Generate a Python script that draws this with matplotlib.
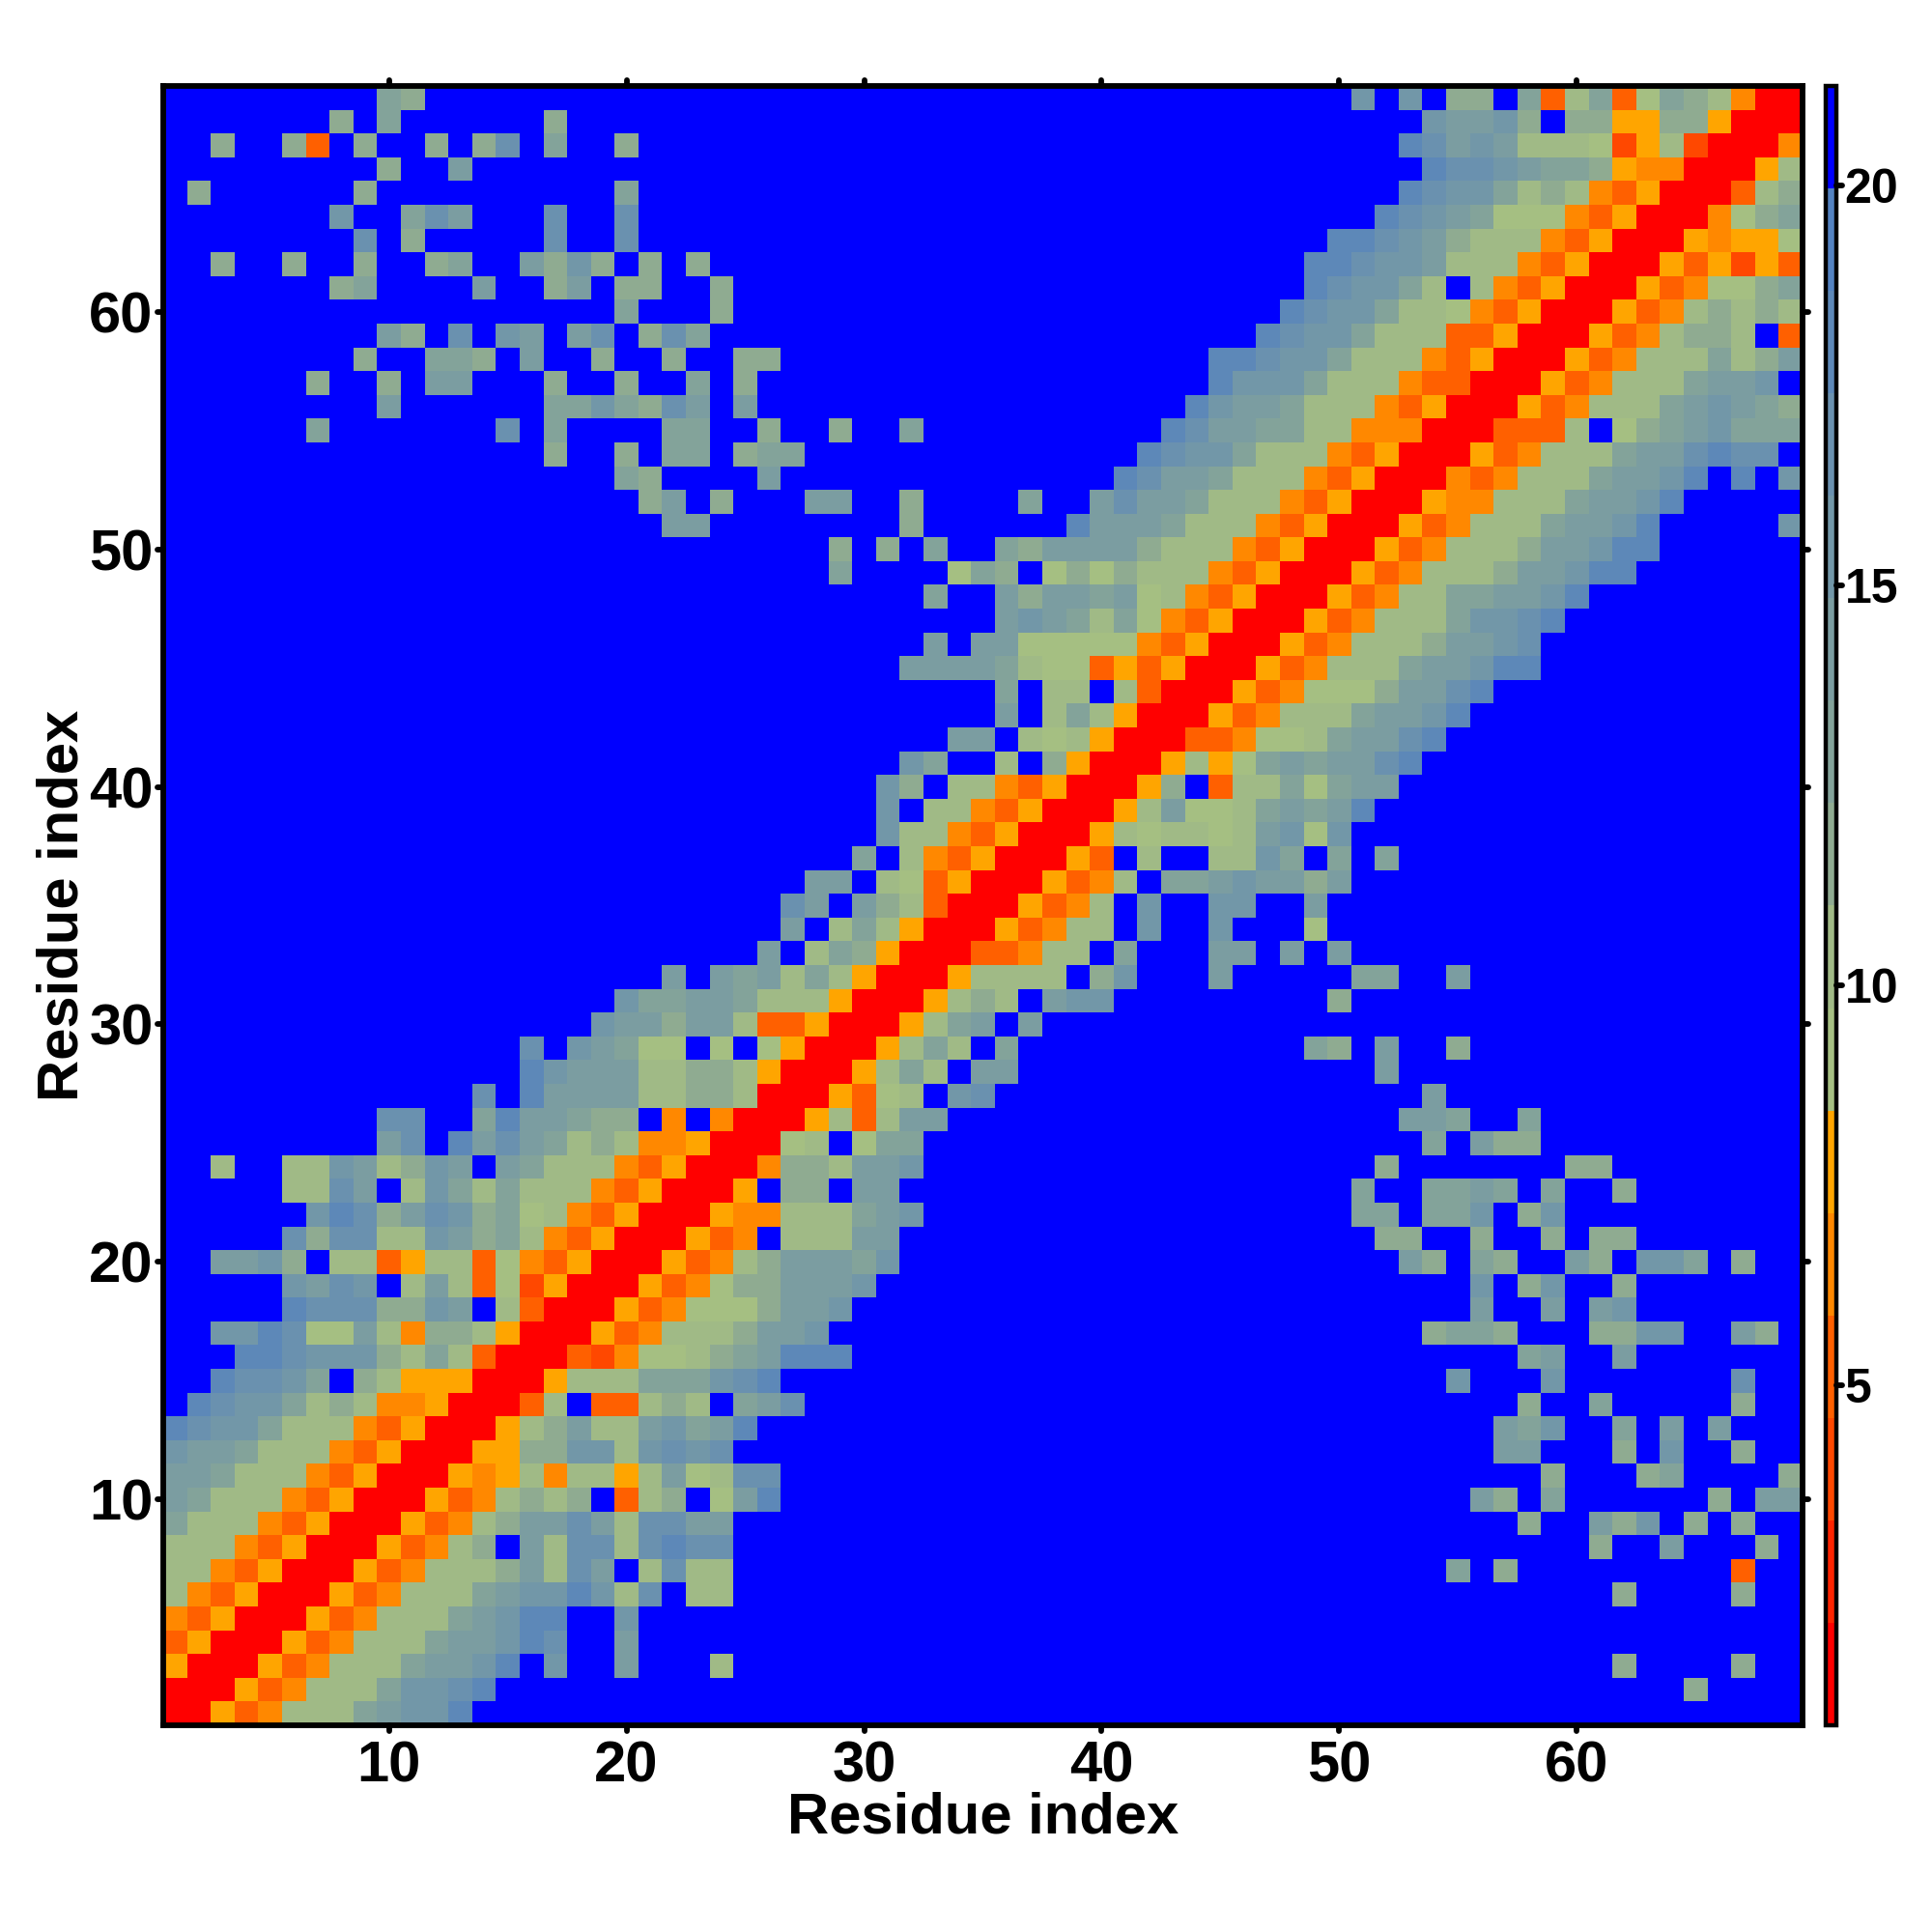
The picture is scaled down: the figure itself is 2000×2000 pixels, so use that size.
import numpy as np
import matplotlib as mpl
mpl.use('Agg')
import matplotlib.pyplot as plt
from matplotlib.colors import ListedColormap, BoundaryNorm
from matplotlib.markers import MarkerStyle

plt.rcParams['font.family'] = ['Liberation Sans', 'DejaVu Sans']
plt.rcParams['font.weight'] = 'bold'

# one string per residue row, top row (69) first; one letter per colour level, '.' is the top level
rows = [
 ".........d" "c........." ".........." ".........." ".........." "f.f.cc.dub" "duadcbvrr",
 ".......c.d" "......c..." ".........." ".........." ".........." "...feefc.c" "cwwccwrrr",
 "..c..cu.c." ".c.cg.d..c" ".........." ".........." ".........." "..hgefebbb" "atwbtrrrv",
 ".........c" "..e......." ".........." ".........." ".........." "...hggfedd" "cwvvrrrwb",
 ".c......c." ".........d" ".........." ".........." ".........." "..hgffdbcb" "vuwrrrubc",
 ".......f.." "dge...g..g" ".........." ".........." ".........." ".hgfedaaav" "uwrrrvacd",
 "........g." "c.....g..g" ".........." ".........." ".........h" "hgfecbbbvu" "wrrrwvwwa",
 "..c..c..c." ".cd..ecfc." "c.c......." ".........." "........hh" "gffebbbvuw" "rrrwuwtwu",
 ".......cd." "...e..ce.c" "c..c......" ".........." "........hg" "ffdb.bvuwr" "rrwuvaacd",
 ".........." ".........d" "...c......" ".........." ".......hgf" "fdbbavuwrr" "rwuvbcbcb",
 ".........e" "c.g.fe.eg." "cgd......." ".........." "......hgff" "dbbbuuwrrr" "wuvbccb.u",
 "........c." ".ddc.e..c." ".c..cc...." ".........." "....hhgffd" "bbbvuwrrrw" "uvbbbdbce",
 "......c..c" ".ee...c..c" "..d.c....." ".........." "....hfffdb" "bbvuurrrwu" "vbbbdeef.",
 ".........e" "......ddfd" "cge.e....." ".........." "...hfeedbb" "bvuwrrrwuv" "bbbdefedc",
 "......d..." "....g.d..." ".dd..c..c." ".d........" "..hgeeddbb" "vvvrrruuub" ".acdefddd",
 ".........." "......c..c" ".dd.cdd..." ".........." ".hgffdbbbv" "uwrrrwuvbb" "bdeeghgg.",
 ".........." ".........d" "c....e...." ".........." "hgeedbbbvu" "wrrrvuvbbb" "deefh.h.f",
 ".........." ".........." "ce.c...ee." ".c....d..e" "geedbbbvuw" "rrrwvvbbbd" "eefh.....",
 ".........." ".........." ".ee......." ".c......he" "eedbbbvuwr" "rrwuvbbbde" "efh.....f",
 ".........." ".........." "........c." "c.d..dceee" "ecbbbvuwrr" "rwuvbbbcee" "fhh......",
 ".........." ".........." "........d." "...adc.aca" "cbbbvuwrrr" "wuvbbbceef" "hh.......",
 ".........." ".........." ".........." "..d..eceed" "eabvuwrrrw" "uvbbddeefh" ".........",
 ".........." ".........." ".........." ".....efedb" "davuwrrrwu" "vbbbdffgh." ".........",
 ".........." ".........." ".........." "..e.eeaaaa" "avuwrrrwuv" "bbbceefg.." ".........",
 ".........." ".........." ".........." ".eeeedbaau" "wuwrrrwuvb" "bbdeefhh.." ".........",
 ".........." ".........." ".........." ".....d.bb." "burrrwuvaa" "aceegh...." ".........",
 ".........." ".........." ".........." ".....e.bdb" "wrrrwuvbbb" "deefh....." ".........",
 ".........." ".........." ".........." "...ee.babw" "rrruuvaabd" "eegh......" ".........",
 ".........." ".........." ".........." ".fd..b.cwr" "rrwbwadede" "egh......." ".........",
 ".........." ".........." ".........." "fc.bbvuwrr" "rwc.ubbdad" "ee........" ".........",
 ".........." ".........." ".........." "f.bbvuwrrr" "wbeaabdede" "h........." ".........",
 ".........." ".........." ".........." "fbbvuwrrrw" "babbabefaf" ".........." ".........",
 ".........." ".........." ".........d" ".bvuwrrrwu" ".b..bbfd.d" ".d........" ".........",
 ".........." ".........." ".......ee." "bauwrrrwuv" "b.ddefeece" ".........." ".........",
 ".........." ".........." "......ge.e" "cburrrwuvb" ".f..ff..e." ".........." ".........",
 ".........." ".........." "......e.bd" "bwrrrwuvbb" ".f..f...a." ".........." ".........",
 ".........." ".........." ".....e.bdc" "wrrruuvbb." "d...ee.e.e" ".........." ".........",
 ".........." ".........." ".e.edebdbw" "rrrwbbbb.c" "f...e....." "dd..e....." ".........",
 ".........." ".........f" "ddeedbbbwr" "rrwbcb.eff" ".........c" ".........." ".........",
 ".........." "........fe" "eceebuuwrr" "rwbde.e..." ".........." ".........." ".........",
 ".........." ".....g.fed" "aa.a.awrrr" "wbdb.d...." "........dc" ".e..c....." ".........",
 ".........." ".....hfeee" "bbccbwrrrw" "bdb.ee...." ".........." ".e........" ".........",
 ".........." "...g.heeee" "bbccbrrrwu" "ab.fg....." ".........." "...e......" ".........",
 ".........g" "g..dheedcc" ".v.vrrrwbu" "bee......." ".........." "..eed..d.." ".........",
 ".........e" "g.hegedbcb" "vvwrrrab.a" "dd........" ".........." "...d.ecc.." ".........",
 "..b..bbfeb" "cfe.edbbbv" "uwrrrvccbe" "ef........" ".........." ".c.......c" "c........",
 ".....bbge." "bfdbdbbbvu" "wrrrw.cc.e" "e........." ".........." "d..dded.d." ".c.......",
 "......fhgc" "egfcdabvuw" "rrrwvvbbbd" "ef........" ".........." "dd.ddf.cf." ".........",
 ".....gcggb" "bfecdbvuwr" "rrwuv.bbbe" "e........." ".........." ".cc..c..c." "cc.......",
 "..eefc.bbu" "wbbuavuwrr" "rwuvbceeed" "f........." ".........." "..ec.dc..e" "c.ffd.c..",
 ".....fegf." "bebuatwrrr" "wuvacceeef" ".........." ".........." ".....f.cf." ".c.......",
 ".....hgggc" "cfe.burrrw" "uvaaaceef." ".........." ".........." ".....e..e." "ef.......",
 "..ffhgaaeb" "vccbwrrrwu" "vbbbceef.." ".........." ".........." "...cddc..." "ccff..ec.",
 "...hhgfffc" "bdburrrutv" "aabcdehhh." ".........." ".........." ".......de." ".e.......",
 "..hggfd.cb" "wwwrrrwbbb" "dddfgh...." ".........." ".........." "....f...f." "......g..",
 ".hgffdbcbv" "vwrrrub.uu" "bcb.deg..." ".........." ".........." ".......c.." "d.....c..",
 "hgffdbbbvu" "wrrrwbcebb" "efdeh....." ".........." ".........." "......edf." ".d.e.e...",
 "feedbbbvuw" "rrrwwccffb" "fgfg......" ".........." ".........." "......ee.." ".c.f..c..",
 "eedbbbvuwr" "rrwvwbvbbw" "beabgg...." ".........." ".........." "........c." "..cd....c",
 "edbbbvuwrr" "rwuvbcbc.u" "bc.aeh...." ".........." ".........." ".....ec.d." ".....c.ee",
 "dbbbvuwrrr" "wuvbceegeb" "ggee......" ".........." ".........." ".......c.." "ecf.c.c..",
 "bbbvuwrrrw" "uvbc.ebggb" "ghgg......" ".........." ".........." ".........." "c..e...c.",
 "bbvuwrrrwu" "vbbbcebge." "bgbb......" ".........." ".........." "....d.c..." "......u..",
 "bvuwrrrwuv" "bbbdeffhfb" "g.bb......" ".........." ".........." ".........." ".c....c..",
 "vuwrrrwuvb" "bbdefhh..f" ".........." ".........." ".........." ".........." ".........",
 "uwrrrwuvbb" "bdeefhg..e" ".........." ".........." ".........." ".........." ".........",
 "wrrrwuvbbb" "deefh.f..e" "...b......" ".........." ".........." ".........." ".c....c..",
 "rrrwuvbbbd" "ffgh......" ".........." ".........." ".........." ".........." "....c....",
 "rrwuvbbbde" "ffh......." ".........." ".........." ".........." ".........." ".........",
]
letters = "rstuvwabcdefghi."
level_colors = ['#ff0000', '#ff2400', '#ff4800', '#ff6000', '#ff8800', '#ffa500',
                '#a5bf82', '#a0ba86', '#8fab91', '#83a39a', '#7b9da1', '#7297a8',
                '#6a91af', '#5d88b8', '#5382c0', '#0000ff']
vmin = 0.75
vmax = 21.25
levels = np.linspace(vmin, vmax, len(level_colors) + 1)
level_values = (levels[:-1] + levels[1:]) / 2

matrix = np.array([[level_values[letters.index(ch)] for ch in r] for r in rows[::-1]])
edges = np.arange(0.5, 70)

cmap = ListedColormap(level_colors)
norm = BoundaryNorm(levels, cmap.N)

fig = plt.figure(figsize=(10, 10), dpi=200)
ax = fig.add_axes([169 / 2000, 1 - 1786 / 2000, 1697 / 2000, 1697 / 2000])
mesh = ax.pcolormesh(edges, edges, matrix, cmap=cmap, norm=norm)

ticks = [10, 20, 30, 40, 50, 60]
ax.set_xticks(ticks)
ax.set_yticks(ticks)
ax.tick_params(top=True, right=True, length=2.3, width=2.1, labelsize=21.5)
ax.tick_params(axis='x', pad=3.2)
ax.tick_params(axis='y', pad=1.4)
ax.set_xlabel('Residue index', fontsize=21.5, fontweight='bold', labelpad=-0.7)
ax.set_ylabel('Residue index', fontsize=21.5, fontweight='bold', labelpad=-0.2)
for side in ax.spines.values():
    side.set_linewidth(2.1)

cax = fig.add_axes([1890 / 2000, 1 - 1786 / 2000, 11 / 2000, 1697 / 2000])
cb = fig.colorbar(mesh, cax=cax, spacing='proportional', drawedges=False)
cb.set_ticks([5, 10, 15, 20])
cb.ax.minorticks_off()
cb.ax.tick_params(right=True, length=2.3, width=2.1, labelsize=18, pad=0.8)
cb.outline.set_linewidth(1.6)

# rounded ends on the tick marks
for axis in [ax.xaxis, ax.yaxis, cax.yaxis]:
    for t in axis.get_major_ticks():
        for line in [t.tick1line, t.tick2line]:
            line.set_marker(MarkerStyle(line.get_marker(), capstyle='round'))

fig.savefig('out.png', dpi=200)
